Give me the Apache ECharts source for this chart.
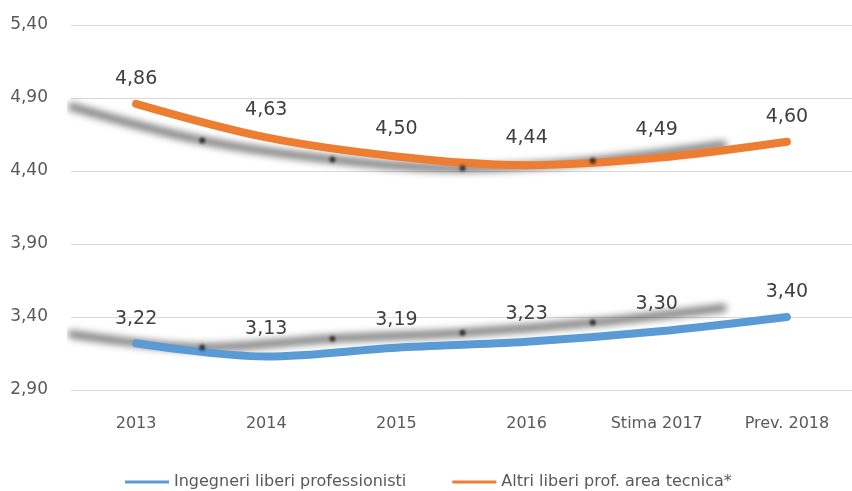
<!DOCTYPE html>
<html>
<head>
<meta charset="utf-8">
<script src="https://cdn.jsdelivr.net/npm/echarts@6/dist/echarts.min.js"></script>
<style>
  html, body { margin: 0; padding: 0; background: #fff; }
  #chart { width: 852px; height: 491px; }
</style>
</head>
<body>
<div id="chart"></div>
<script>
const categories = ['2013', '2014', '2015', '2016', 'Stima 2017', 'Prev. 2018']
const ingegneri = [3.22, 3.13, 3.19, 3.23, 3.30, 3.40]
const altri = [4.86, 4.63, 4.50, 4.44, 4.49, 4.60]
const yTicks = { min: 2.9, max: 5.4, step: 0.5 }

const fmt = (v) => v.toFixed(2).replace('.', ',')
const labelFont = 'DejaVu Sans, Verdana, sans-serif'

// Excel-like offset shadow on each line, plus dark dots under inner points
function lineSeries(name, data, color, offY) {
  return {
    name: name,
    type: 'line',
    data: data,
    smooth: 0.35,
    symbol: 'circle',
    symbolSize: (v, p) => (p.dataIndex === 0 || p.dataIndex === data.length - 1) ? 0 : 6,
    lineStyle: {
      color: color,
      width: 8,
      cap: 'round',
      shadowColor: 'rgba(0,0,0,0.5)',
      shadowBlur: 7,
      shadowOffsetX: -64,
      shadowOffsetY: offY
    },
    itemStyle: {
      color: color,
      shadowColor: 'rgba(0,0,0,0.7)',
      shadowBlur: 3,
      shadowOffsetX: -64,
      shadowOffsetY: offY
    },
    label: {
      show: true,
      position: 'top',
      distance: 15,
      color: '#404040',
      fontSize: 19,
      fontFamily: labelFont,
      formatter: (p) => fmt(p.value)
    },
    emphasis: { disabled: true }
  }
}

const chart = echarts.init(document.getElementById('chart'), null, { renderer: 'canvas' })
chart.setOption({
  animation: false,
  grid: { left: 71, right: -8, top: 25, bottom: 101 },
  legend: {
    top: 474,
    left: 125,
    padding: 0,
    itemWidth: 44,
    itemHeight: 3,
    itemGap: 46,
    icon: 'rect',
    textStyle: { color: '#595959', fontSize: 16, fontFamily: labelFont },
    data: ['Ingegneri liberi professionisti', 'Altri liberi prof. area tecnica*']
  },
  xAxis: {
    type: 'category',
    data: categories,
    boundaryGap: true,
    axisLine: { show: false },
    axisTick: { show: false },
    axisLabel: { color: '#595959', fontSize: 16, fontFamily: labelFont, margin: 26 }
  },
  yAxis: {
    type: 'value',
    min: yTicks.min,
    max: yTicks.max,
    interval: yTicks.step,
    axisLine: { show: false },
    axisTick: { show: false },
    splitLine: { lineStyle: { color: '#d9d9d9', width: 1 } },
    axisLabel: {
      color: '#595959',
      fontSize: 17,
      fontFamily: labelFont,
      margin: 23,
      formatter: (v) => fmt(v)
    }
  },
  series: [
    lineSeries('Ingegneri liberi professionisti', ingegneri, '#5b9bd5', -9),
    lineSeries('Altri liberi prof. area tecnica*', altri, '#ed7d31', 3)
  ]
})
</script>
</body>
</html>
